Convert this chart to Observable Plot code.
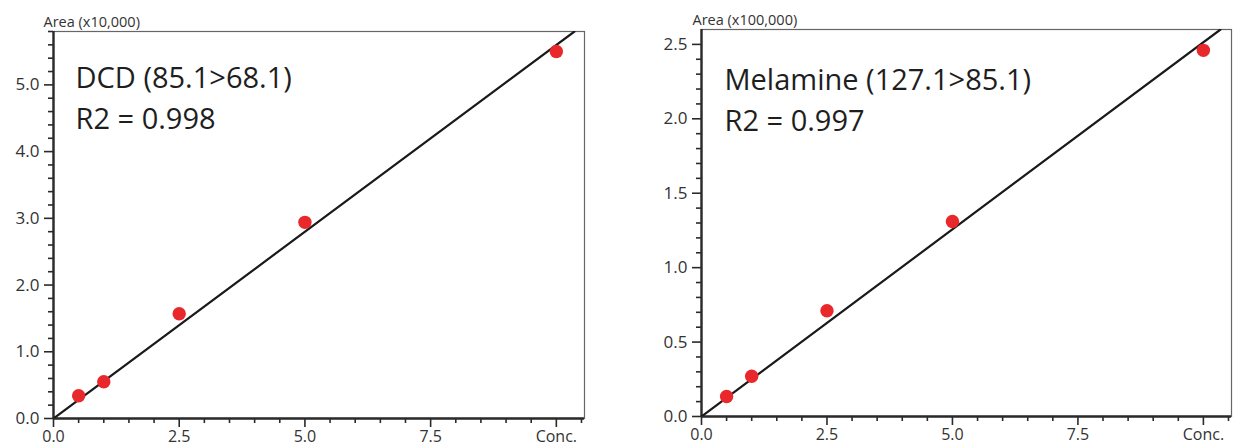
<!DOCTYPE html>
<html>
<head>
<meta charset="utf-8">
<script src="https://cdn.jsdelivr.net/npm/d3@7"></script>
<script src="https://cdn.jsdelivr.net/npm/@observablehq/plot@0.6"></script>
<style>
  html, body { margin: 0; padding: 0; background: #fff; }
  #wrap { display: flex; width: 1237px; height: 446px; }
  #wrap svg { display: block; }
</style>
</head>
<body>
<div id="wrap"></div>
<script>
// ---- Data ----
const concLevels = [0.5, 1, 2.5, 5, 10];
const dcdArea = [0.34, 0.55, 1.57, 2.94, 5.50];        // x10,000
const melArea = [0.134, 0.27, 0.71, 1.31, 2.46];       // x100,000
const dcdFitX = [0, 10.36];
const dcdFitY = [0, 5.8];
const melFitX = [0, 10.34];
const melFitY = [0, 2.6];
const xMajorTicks = [0, 2.5, 5, 7.5, 10];
const xTickLabels = ["0.0", "2.5", "5.0", "7.5", "Conc."];
const xMinorTicks = [0.5, 1, 1.5, 2, 3, 3.5, 4, 4.5, 5.5, 6, 6.5, 7, 8, 8.5, 9, 9.5, 10.5];
const dcdYMajor = [0, 1, 2, 3, 4, 5];
const dcdYMinor = d3.range(1, 30).map(i => +(i * 0.2).toFixed(1)).filter(v => !dcdYMajor.includes(v));
const melYMajor = [0, 0.5, 1, 1.5, 2, 2.5];
const melYMinor = d3.range(1, 26).map(i => +(i * 0.1).toFixed(1)).filter(v => !melYMajor.includes(v));

const FONT = "'Open Sans', 'Noto Sans', sans-serif";
const INK = "#2a2a2a";
const RED = "#e8282b";

function chart(cfg) {
  const pts = cfg.x.map((x, i) => ({x, y: cfg.y[i]}));
  const fit = cfg.fitX.map((x, i) => ({x, y: cfg.fitY[i]}));
  return Plot.plot({
    width: cfg.width,
    height: 446,
    marginLeft: cfg.ml,
    marginRight: cfg.mr,
    marginTop: cfg.mt,
    marginBottom: cfg.mb,
    style: {fontFamily: FONT, color: INK, background: "#fff", overflow: "visible"},
    x: {domain: [0, 10.56]},
    y: {domain: cfg.yDomain},
    marks: [
      Plot.frame({stroke: "#666", strokeWidth: 1.2}),
      Plot.axisX(xMinorTicks, {tickSize: 5, tickFormat: () => "", label: null, strokeWidth: 1.6, stroke: INK}),
      Plot.axisX(xMajorTicks, {tickSize: 9, tickPadding: 3, label: null, strokeWidth: 1.6, stroke: INK,
        tickFormat: (d) => xTickLabels[xMajorTicks.indexOf(d)], fontSize: 16, fill: "#333"}),
      Plot.axisY(cfg.yMinor, {tickSize: 5, tickFormat: () => "", label: null, strokeWidth: 1.6, stroke: INK}),
      Plot.axisY(cfg.yMajor, {tickSize: 9, tickPadding: 5, label: null, strokeWidth: 1.6, stroke: INK,
        tickFormat: d3.format(".1f"), fontSize: 17, fill: "#333"}),
      Plot.ruleX([0], {stroke: INK, strokeWidth: 2.4}),
      Plot.ruleY([0], {stroke: INK, strokeWidth: 2.4}),
      Plot.line(fit, {x: "x", y: "y", stroke: "#1a1a1a", strokeWidth: 2.2, clip: "frame"}),
      Plot.dot(pts, {x: "x", y: "y", r: 6.7, fill: RED, stroke: "none"}),
      Plot.text([cfg.unit], {frameAnchor: "top-left", textAnchor: "start", lineAnchor: "bottom",
        dx: cfg.unitDx, dy: -5, fontSize: 14.5, fill: "#333"}),
      Plot.text([cfg.title + "\n" + cfg.r2], {frameAnchor: "top-left", textAnchor: "start", lineAnchor: "top",
        dx: cfg.titleDx, dy: cfg.titleDy, fontSize: 29, lineHeight: 1.42, fill: "#1e1e1e"})
    ]
  });
}

const wrap = document.getElementById("wrap");
wrap.appendChild(chart({
  width: 620, ml: 53, mr: 36, mt: 31, mb: 28,
  x: concLevels, y: dcdArea, fitX: dcdFitX, fitY: dcdFitY,
  yDomain: [0, 5.8], yMajor: dcdYMajor, yMinor: dcdYMinor,
  unit: "Area (x10,000)", unitDx: -10,
  title: "DCD (85.1>68.1)", r2: "R2 = 0.998", titleDx: 22, titleDy: 27
}));
wrap.appendChild(chart({
  width: 617, ml: 81, mr: 6, mt: 29, mb: 30,
  x: concLevels, y: melArea, fitX: melFitX, fitY: melFitY,
  yDomain: [0, 2.6], yMajor: melYMajor, yMinor: melYMinor,
  unit: "Area (x100,000)", unitDx: -9,
  title: "Melamine (127.1>85.1)", r2: "R2 = 0.997", titleDx: 23, titleDy: 31
}));
</script>
</body>
</html>
